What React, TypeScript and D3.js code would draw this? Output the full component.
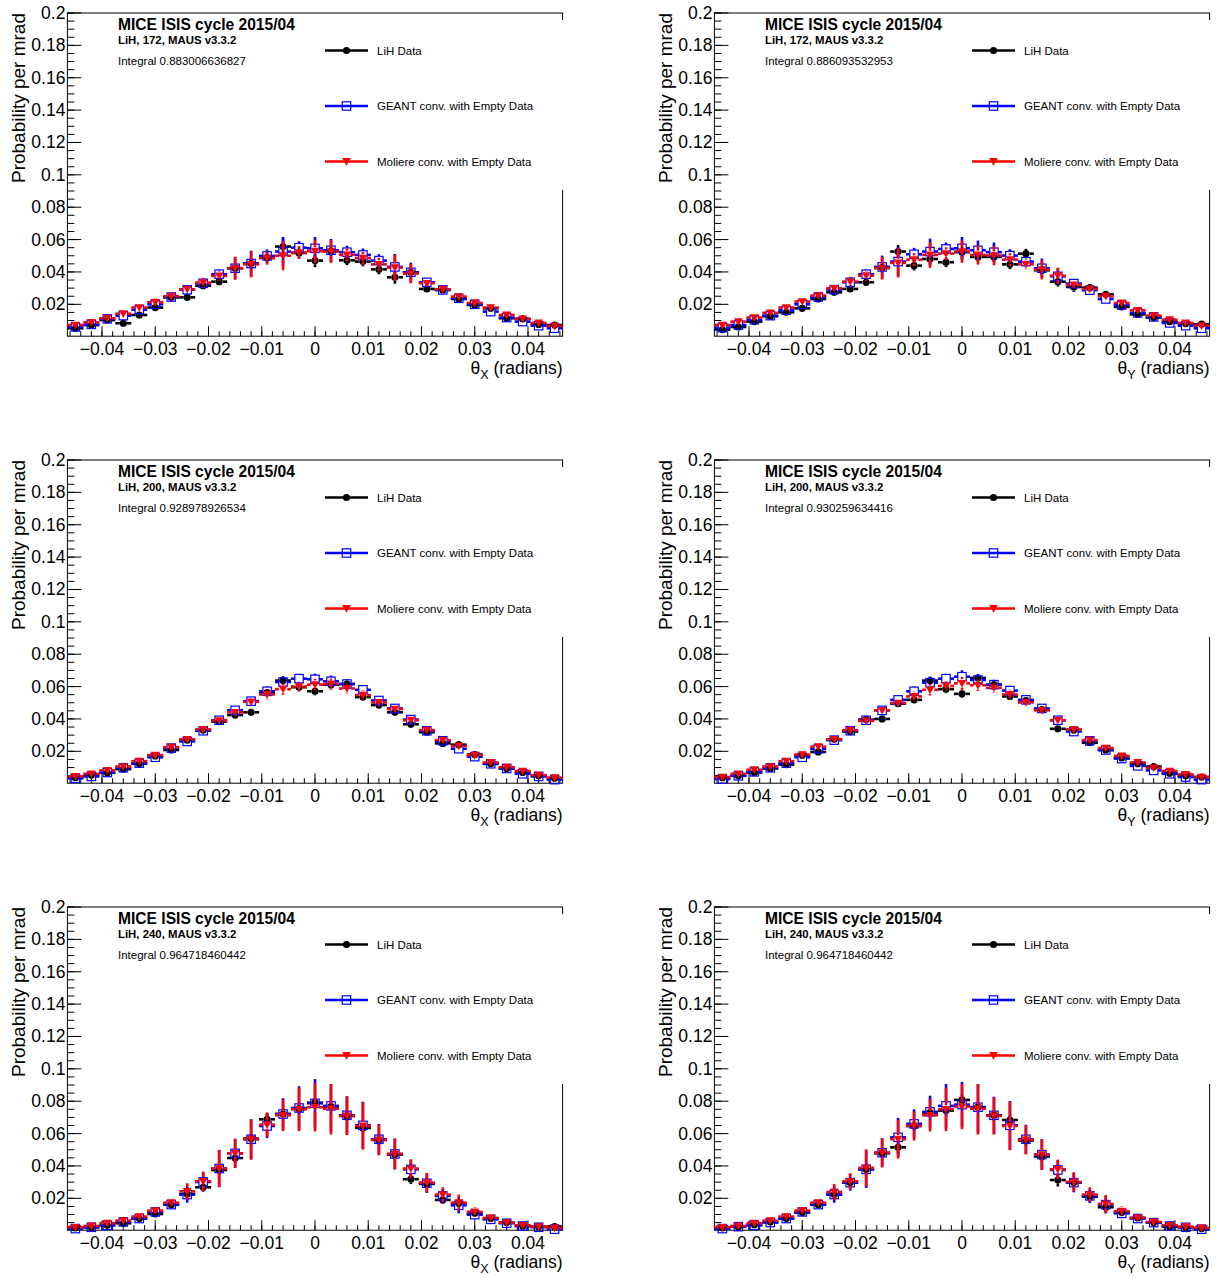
import React from "react";
import * as d3 from "d3";

// ---------- data ----------
const binCenters = [
  -0.045, -0.042, -0.039, -0.036, -0.033, -0.03, -0.027, -0.024, -0.021, -0.018, -0.015,
  -0.012, -0.009, -0.006, -0.003, 0, 0.003, 0.006, 0.009, 0.012, 0.015, 0.018, 0.021,
  0.024, 0.027, 0.03, 0.033, 0.036, 0.039, 0.042, 0.045,
];
const binWidth = 0.003;

const xTicks = [-0.04, -0.03, -0.02, -0.01, 0, 0.01, 0.02, 0.03, 0.04];
const xTickLabels = ["\u22120.04", "\u22120.03", "\u22120.02", "\u22120.01", "0", "0.01", "0.02", "0.03", "0.04"];
const yTicks = [0.02, 0.04, 0.06, 0.08, 0.1, 0.12, 0.14, 0.16, 0.18, 0.2];
const yTickLabels = ["0.02", "0.04", "0.06", "0.08", "0.1", "0.12", "0.14", "0.16", "0.18", "0.2"];

const legendLabels = ["LiH Data", "GEANT conv. with Empty Data", "Moliere conv. with Empty Data"];

// theta X, 172
const lihX172 = [0.0052,0.0072,0.0103,0.0083,0.0134,0.018,0.0243,0.0243,0.0315,0.034,0.0423,0.0452,0.0489,0.0557,0.0517,0.047,0.053,0.0472,0.0464,0.0416,0.0367,0.0398,0.0295,0.0289,0.0233,0.0196,0.0175,0.0114,0.011,0.0076,0.0072];
const geantX172 = [0.006,0.0076,0.011,0.013,0.0167,0.02,0.0245,0.029,0.033,0.0386,0.0423,0.0452,0.0499,0.0526,0.055,0.0546,0.0534,0.0522,0.0505,0.047,0.0431,0.0398,0.0336,0.0289,0.0237,0.02,0.0155,0.0118,0.0093,0.0068,0.0052];
const moliereX172 = [0.0072,0.0089,0.0114,0.0142,0.018,0.0213,0.025,0.0293,0.0334,0.0375,0.0423,0.0447,0.0485,0.05,0.052,0.0528,0.0526,0.0505,0.0485,0.0447,0.0427,0.039,0.033,0.0293,0.0248,0.0208,0.018,0.0134,0.011,0.0085,0.0066];
const errLihX172 = [0.001,0.001,0.001,0.001,0.0015,0.0015,0.0015,0.0015,0.002,0.002,0.003,0.003,0.003,0.005,0.003,0.004,0.003,0.003,0.003,0.003,0.004,0.003,0.002,0.0015,0.0015,0.0015,0.0015,0.001,0.001,0.001,0.001];
const errModelX172 = [0.001,0.001,0.001,0.0015,0.002,0.002,0.002,0.002,0.003,0.003,0.007,0.008,0.004,0.009,0.004,0.007,0.007,0.004,0.004,0.004,0.008,0.006,0.002,0.002,0.002,0.002,0.002,0.0015,0.001,0.001,0.001];

// theta Y, 172
const lihY172 = [0.0044,0.006,0.0093,0.0126,0.0151,0.0175,0.0233,0.0274,0.0295,0.0336,0.0427,0.0526,0.0439,0.048,0.046,0.0522,0.0493,0.0493,0.0447,0.0513,0.041,0.034,0.0307,0.0303,0.0262,0.0184,0.0138,0.0118,0.0093,0.0081,0.0077];
const geantY172 = [0.0056,0.0072,0.0105,0.013,0.0163,0.02,0.0245,0.0291,0.0336,0.0386,0.0431,0.0464,0.0509,0.0526,0.0542,0.0546,0.0534,0.0522,0.0501,0.0464,0.0423,0.0373,0.0328,0.0287,0.0233,0.0196,0.0147,0.0122,0.0085,0.0068,0.0052];
const moliereY172 = [0.0072,0.0093,0.0118,0.0147,0.018,0.0217,0.0254,0.0299,0.034,0.0377,0.0423,0.0456,0.0476,0.0505,0.0513,0.0526,0.0505,0.0501,0.0476,0.0447,0.0414,0.0377,0.032,0.0295,0.025,0.0208,0.0163,0.013,0.0105,0.0085,0.0068];
const errLihY172 = [0.001,0.001,0.001,0.001,0.0015,0.0015,0.0015,0.0015,0.002,0.002,0.003,0.004,0.003,0.004,0.003,0.004,0.003,0.003,0.003,0.003,0.003,0.003,0.003,0.002,0.0015,0.0015,0.0015,0.001,0.001,0.001,0.001];
const errModelY172 = [0.001,0.001,0.001,0.0015,0.002,0.002,0.002,0.002,0.003,0.003,0.007,0.009,0.004,0.008,0.004,0.007,0.006,0.006,0.004,0.003,0.006,0.005,0.002,0.002,0.002,0.002,0.002,0.0015,0.001,0.001,0.001];

// theta X, 200
const lihX200 = [0.0037,0.0053,0.0067,0.009,0.0123,0.0171,0.0208,0.0269,0.0331,0.0384,0.0424,0.0441,0.0563,0.0637,0.0596,0.0571,0.0612,0.0616,0.0535,0.0486,0.0441,0.0367,0.0318,0.0249,0.0241,0.018,0.0123,0.0094,0.0069,0.0049,0.0033];
const geantX200 = [0.0033,0.0045,0.0069,0.0098,0.0127,0.0163,0.022,0.0261,0.0327,0.0392,0.0453,0.051,0.0571,0.0628,0.0649,0.0645,0.0633,0.0616,0.058,0.0514,0.0465,0.0396,0.0327,0.0265,0.0216,0.0167,0.0123,0.0094,0.0061,0.0045,0.0025];
const moliereX200 = [0.0045,0.0061,0.0082,0.0106,0.0139,0.0176,0.0225,0.0274,0.0335,0.039,0.0441,0.0506,0.0551,0.0584,0.06,0.0612,0.0616,0.0588,0.0547,0.0502,0.0461,0.0392,0.0331,0.0269,0.0233,0.0176,0.0131,0.0102,0.0078,0.0053,0.0037];
const errLihX200 = [0.0008,0.0008,0.001,0.001,0.0012,0.0012,0.0015,0.0015,0.0015,0.0018,0.002,0.002,0.002,0.0025,0.0025,0.0025,0.0025,0.0025,0.002,0.002,0.002,0.002,0.0018,0.0015,0.0015,0.0012,0.0012,0.001,0.001,0.0008,0.0008];
const errModelX200 = [0.0008,0.0008,0.001,0.001,0.0012,0.0015,0.0015,0.0015,0.002,0.002,0.002,0.0025,0.003,0.0035,0.003,0.0035,0.0035,0.003,0.003,0.0025,0.0025,0.002,0.002,0.0015,0.0015,0.0015,0.0012,0.001,0.001,0.0008,0.0008];

// theta Y, 200
const lihY200 = [0.0037,0.0049,0.0069,0.0094,0.0118,0.0176,0.0196,0.0274,0.0322,0.0396,0.04,0.0494,0.0518,0.0637,0.0584,0.0555,0.0653,0.0612,0.0539,0.0514,0.0457,0.0339,0.0331,0.0253,0.0208,0.0159,0.0123,0.0106,0.0065,0.0049,0.0041];
const geantY200 = [0.0029,0.0049,0.0073,0.0098,0.0127,0.0163,0.0216,0.0269,0.0327,0.0392,0.0453,0.0518,0.0571,0.0624,0.0649,0.0661,0.0641,0.0612,0.0575,0.0518,0.0465,0.0392,0.0322,0.0265,0.0208,0.0155,0.011,0.0082,0.0061,0.0041,0.0025];
const moliereY200 = [0.0041,0.0061,0.0086,0.0106,0.0139,0.018,0.0229,0.0274,0.0331,0.0388,0.0453,0.0498,0.0539,0.058,0.0604,0.062,0.0608,0.0592,0.0551,0.0502,0.0453,0.0392,0.0335,0.0269,0.022,0.0171,0.0131,0.0098,0.0078,0.0057,0.0041];
const errLihY200 = [0.0008,0.0008,0.001,0.001,0.0012,0.0012,0.0015,0.0015,0.0015,0.0018,0.002,0.002,0.002,0.0025,0.0025,0.0025,0.0025,0.0025,0.002,0.002,0.002,0.002,0.0018,0.0015,0.0015,0.0012,0.0012,0.001,0.001,0.0008,0.0008];
const errModelY200 = [0.0008,0.0008,0.001,0.001,0.0012,0.0015,0.0015,0.0015,0.002,0.002,0.002,0.0025,0.003,0.0035,0.003,0.004,0.0035,0.003,0.003,0.0025,0.0025,0.002,0.002,0.0015,0.0015,0.0015,0.0012,0.001,0.001,0.0008,0.0008];

// theta X, 240
const lihX240 = [0.0017,0.0021,0.0033,0.0046,0.0075,0.0103,0.0161,0.0227,0.0268,0.0375,0.0449,0.0569,0.0688,0.0721,0.0754,0.0791,0.0767,0.0709,0.0635,0.0561,0.047,0.0318,0.0289,0.019,0.0169,0.0107,0.0075,0.005,0.0029,0.0025,0.0025];
const geantX240 = [0.0013,0.0021,0.0033,0.0054,0.0075,0.0116,0.0161,0.0223,0.0301,0.0384,0.0478,0.0565,0.0647,0.0721,0.0758,0.0787,0.0771,0.0713,0.0651,0.0565,0.0474,0.0379,0.0293,0.0215,0.0157,0.0099,0.007,0.0046,0.0029,0.0021,0.0009];
const moliereX240 = [0.0021,0.0029,0.0046,0.0062,0.0087,0.0124,0.0173,0.0243,0.0305,0.0384,0.0478,0.0565,0.0655,0.0713,0.075,0.0763,0.0754,0.0709,0.0647,0.0561,0.0474,0.0384,0.0297,0.0223,0.0173,0.0116,0.0079,0.005,0.0033,0.0025,0.0017];
const errLihX240 = [0.0008,0.0008,0.001,0.001,0.0012,0.0015,0.0018,0.002,0.0025,0.003,0.003,0.003,0.004,0.003,0.003,0.003,0.003,0.003,0.003,0.003,0.003,0.003,0.0025,0.0025,0.002,0.0018,0.0015,0.0012,0.001,0.0008,0.0008];
const errModelX240 = [0.0008,0.001,0.001,0.0012,0.0015,0.002,0.0025,0.005,0.006,0.0115,0.009,0.0125,0.0075,0.0097,0.0135,0.015,0.016,0.0118,0.0146,0.0095,0.0095,0.0058,0.006,0.0045,0.005,0.003,0.002,0.0015,0.001,0.001,0.0008];

// theta Y, 240
const lihY240 = [0.0017,0.0025,0.0037,0.0054,0.0075,0.0112,0.0161,0.0223,0.0297,0.0379,0.0478,0.0515,0.0647,0.073,0.0742,0.0808,0.0763,0.0713,0.0684,0.0557,0.0458,0.0313,0.0297,0.021,0.0145,0.0112,0.0079,0.005,0.0025,0.0021,0.0013];
const geantY240 = [0.0013,0.0025,0.0033,0.005,0.0075,0.0116,0.0161,0.0223,0.0297,0.0379,0.0482,0.0577,0.066,0.0734,0.0771,0.0779,0.0763,0.0713,0.0651,0.0565,0.047,0.0375,0.0297,0.0215,0.0161,0.0107,0.0075,0.005,0.0029,0.0021,0.0009];
const moliereY240 = [0.0021,0.0029,0.0046,0.0062,0.0087,0.0124,0.0173,0.0239,0.0305,0.0388,0.0482,0.0565,0.0647,0.0713,0.075,0.0767,0.0754,0.0709,0.0647,0.0561,0.047,0.0379,0.0301,0.0223,0.0165,0.012,0.0079,0.0054,0.0033,0.0025,0.0017];
const errLihY240 = [0.0008,0.0008,0.001,0.001,0.0012,0.0015,0.0018,0.002,0.0025,0.003,0.003,0.004,0.003,0.003,0.003,0.003,0.003,0.003,0.003,0.003,0.003,0.004,0.0025,0.0025,0.002,0.0018,0.0015,0.0012,0.001,0.0008,0.0008];
const errModelY240 = [0.0008,0.001,0.001,0.0012,0.0015,0.002,0.0025,0.005,0.005,0.0115,0.009,0.012,0.009,0.01,0.0135,0.014,0.016,0.0115,0.015,0.009,0.0095,0.006,0.006,0.0045,0.0055,0.003,0.002,0.0015,0.001,0.001,0.0008];

const panels = [
  { row: 0, col: 0, axis: "X", label: "LiH, 172, MAUS v3.3.2", integral: "Integral 0.883006636827", lih: lihX172, geant: geantX172, moliere: moliereX172, errLih: errLihX172, errModel: errModelX172 },
  { row: 0, col: 1, axis: "Y", label: "LiH, 172, MAUS v3.3.2", integral: "Integral 0.886093532953", lih: lihY172, geant: geantY172, moliere: moliereY172, errLih: errLihY172, errModel: errModelY172 },
  { row: 1, col: 0, axis: "X", label: "LiH, 200, MAUS v3.3.2", integral: "Integral 0.928978926534", lih: lihX200, geant: geantX200, moliere: moliereX200, errLih: errLihX200, errModel: errModelX200 },
  { row: 1, col: 1, axis: "Y", label: "LiH, 200, MAUS v3.3.2", integral: "Integral 0.930259634416", lih: lihY200, geant: geantY200, moliere: moliereY200, errLih: errLihY200, errModel: errModelY200 },
  { row: 2, col: 0, axis: "X", label: "LiH, 240, MAUS v3.3.2", integral: "Integral 0.964718460442", lih: lihX240, geant: geantX240, moliere: moliereX240, errLih: errLihX240, errModel: errModelX240 },
  { row: 2, col: 1, axis: "Y", label: "LiH, 240, MAUS v3.3.2", integral: "Integral 0.964718460442", lih: lihY240, geant: geantY240, moliere: moliereY240, errLih: errLihY240, errModel: errModelY240 },
];

// ---------- layout ----------
const W = 1216;
const H = 1278;
const DX = 647;
const DY = 447;
const FL = 67.4, FR = 562.6, FT = 13, FB = 336.2;
const X_MIN = -0.0465, X_MAX = 0.0465, Y_MIN = 0.0003, Y_MAX = 0.2;
const FONT = "'Liberation Sans', Arial, Helvetica, sans-serif";
const COLORS = ["#000000", "#0000ff", "#ff0000"];

const xScale = d3.scaleLinear().domain([X_MIN, X_MAX]).range([FL, FR]);
const yScale = d3.scaleLinear().domain([Y_MIN, Y_MAX]).range([FB, FT]);

const xMinor = d3.range(-23, 24).map((k) => k * 0.002);
const yMinor = d3.range(1, 41).map((k) => k * 0.005);

function Marker({ kind, cx, cy }: { kind: number; cx: number; cy: number }) {
  if (kind === 0) return <circle cx={cx} cy={cy} r={3.6} fill="#000" />;
  if (kind === 1)
    return <rect x={cx - 4.2} y={cy - 4.2} width={8.4} height={8.4} fill="none" stroke="#0000ff" strokeWidth={1.2} />;
  const p = d3.path();
  p.moveTo(cx, cy + 4.2);
  p.lineTo(cx - 4.4, cy - 3.4);
  p.lineTo(cx + 4.4, cy - 3.4);
  p.closePath();
  return <path d={p.toString()} fill="#ff0000" />;
}

function Series({ kind, values, errs }: { kind: number; values: number[]; errs: number[] }) {
  const color = COLORS[kind];
  const gap = kind === 0 ? 3.6 : 4.2;
  const lw = 2.6;
  return (
    <g>
      {values.map((v, i) => {
        const cx = xScale(binCenters[i]);
        const cy = yScale(v);
        const x0 = xScale(binCenters[i] - binWidth / 2);
        const x1 = xScale(binCenters[i] + binWidth / 2);
        const yt = yScale(Math.min(v + errs[i], Y_MAX));
        const yb = yScale(Math.max(v - errs[i], Y_MIN));
        return (
          <g key={i}>
            <line x1={x0} x2={cx - gap} y1={cy} y2={cy} stroke={color} strokeWidth={lw} />
            <line x1={cx + gap} x2={x1} y1={cy} y2={cy} stroke={color} strokeWidth={lw} />
            {yt < cy - gap && <line x1={cx} x2={cx} y1={yt} y2={cy - gap} stroke={color} strokeWidth={lw} />}
            {yb > cy + gap && <line x1={cx} x2={cx} y1={cy + gap} y2={yb} stroke={color} strokeWidth={lw} />}
            <Marker kind={kind} cx={cx} cy={cy} />
          </g>
        );
      })}
    </g>
  );
}

function Panel({ p }: { p: (typeof panels)[number] }) {
  const tx = p.col * DX;
  const ty = p.row * DY;
  const legendY = [50.5, 106, 161.5];
  return (
    <g transform={`translate(${tx},${ty})`}>
      {/* frame */}
      <rect x={FL} y={FT} width={FR - FL} height={FB - FT} fill="none" stroke="#000" strokeWidth={1} />
      {/* y ticks */}
      {yMinor.map((v, i) => (
        <line key={"ym" + i} x1={FL} x2={FL + 7} y1={yScale(v)} y2={yScale(v)} stroke="#000" strokeWidth={1} />
      ))}
      {yTicks.map((v, i) => (
        <g key={"yt" + i}>
          <line x1={FL} x2={FL + 14} y1={yScale(v)} y2={yScale(v)} stroke="#000" strokeWidth={1} />
          <text x={FL - 2} y={yScale(v) + 6} textAnchor="end" fontFamily={FONT} fontSize={17.5} fill="#000">
            {yTickLabels[i]}
          </text>
        </g>
      ))}
      {/* x ticks */}
      {xMinor.map((v, i) => (
        <line key={"xm" + i} x1={xScale(v)} x2={xScale(v)} y1={FB} y2={FB - 5} stroke="#000" strokeWidth={1} />
      ))}
      {xTicks.map((v, i) => (
        <g key={"xt" + i}>
          <line x1={xScale(v)} x2={xScale(v)} y1={FB} y2={FB - 10} stroke="#000" strokeWidth={1} />
          <text x={xScale(v)} y={FB + 19} textAnchor="middle" fontFamily={FONT} fontSize={17.5} fill="#000">
            {xTickLabels[i]}
          </text>
        </g>
      ))}
      {/* axis titles */}
      <text x={FR} y={374} textAnchor="end" fontFamily={FONT} fontSize={17.5} fill="#000">
        θ<tspan fontSize={12.5} dy={5}>{p.axis}</tspan>
        <tspan dy={-5} fontSize={17.5}> (radians)</tspan>
      </text>
      <text
        transform={`translate(25,${FT}) rotate(-90)`}
        textAnchor="end"
        fontFamily={FONT}
        fontSize={19}
        fill="#000"
      >
        Probability per mrad
      </text>
      {/* data */}
      <Series kind={0} values={p.lih} errs={p.errLih} />
      <Series kind={1} values={p.geant} errs={p.errModel} />
      <Series kind={2} values={p.moliere} errs={p.errModel} />
      {/* legend */}
      <rect x={318} y={20} width={260} height={170} fill="#fff" />
      {legendLabels.map((t, i) => (
        <g key={"lg" + i}>
          <line x1={325} x2={368} y1={legendY[i]} y2={legendY[i]} stroke={COLORS[i]} strokeWidth={2.7} />
          <Marker kind={i} cx={346.5} cy={legendY[i]} />
          <text x={377} y={legendY[i] + 4} fontFamily={FONT} fontSize={11.5} fill="#000">
            {t}
          </text>
        </g>
      ))}
      {/* texts */}
      <text x={118} y={29.7} fontFamily={FONT} fontWeight="bold" fontSize={15.6} fill="#000">
        MICE ISIS cycle 2015/04
      </text>
      <text x={118} y={44} fontFamily={FONT} fontWeight="bold" fontSize={11.4} fill="#000">
        {p.label}
      </text>
      <text x={118} y={64.7} fontFamily={FONT} fontSize={11.5} fill="#000">
        {p.integral}
      </text>
    </g>
  );
}

export default function App() {
  return (
    <svg
      width={W}
      height={H}
      viewBox={`0 0 ${W} ${H}`}
      style={{ position: "absolute", left: 0, top: 0, background: "#fff" }}
    >
      <rect x={0} y={0} width={W} height={H} fill="#fff" />
      {panels.map((p, i) => (
        <Panel key={i} p={p} />
      ))}
    </svg>
  );
}
